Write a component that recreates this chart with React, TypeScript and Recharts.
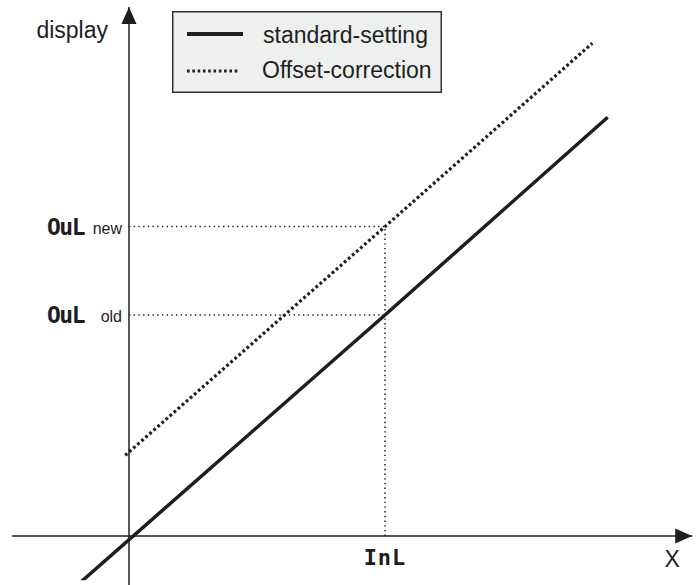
import {
  ComposedChart,
  Line,
  XAxis,
  YAxis,
  ReferenceLine,
  ReferenceDot,
  Legend,
} from "recharts";

// values (x: InL = 10, y: OuL old = 10)
const standardSetting = [
  { x: -1.85, y: -2.05 },
  { x: 10, y: 10 },
  { x: 18.7, y: 18.95 },
];
const offsetCorrection = [
  { x: -0.15, y: 3.65 },
  { x: 10, y: 14 },
  { x: 18.1, y: 22.3 },
];
const inL = 10;
const ouLOld = 10;
const ouLNew = 14;
const seriesNames = ["standard-setting", "Offset-correction"];
const axisTitles = { x: "X", y: "display" };
const xLimits = [-4.57, 22];
const yLimits = [-2.22, 23.94];

const ink = "#1e1e1e";
const font = "'Liberation Sans', Arial, sans-serif";
const segFont = "'DejaVu Sans Mono', monospace";

const ArrowUp = (p: any) => (
  <path d={`M${p.cx},${p.cy} l-7.5,17 l15,0 z`} fill={ink} />
);
const ArrowRight = (p: any) => (
  <path d={`M${p.cx},${p.cy} l-17,-7.5 l0,15 z`} fill={ink} />
);

const OuLLabel = (sub: string) => (props: any) => {
  const { x, y } = props.viewBox;
  return (
    <g>
      <text x={x - 45} y={y + 8} textAnchor="end" fontFamily={segFont} fontWeight="bold" fontSize={23} letterSpacing={-1.5} fill={ink}>
        OuL
      </text>
      <text x={x - 7} y={y + 7} textAnchor="end" fontFamily={font} fontSize={16} fill={ink}>
        {sub}
      </text>
    </g>
  );
};

const InLLabel = (props: any) => {
  const { x, y, height } = props.viewBox;
  return (
    <text x={x} y={y + height + 29} textAnchor="middle" fontFamily={segFont} fontWeight="bold" fontSize={22} letterSpacing={1} fill={ink}>
      InL
    </text>
  );
};

const YTitle = (props: any) => {
  const { x, y } = props.viewBox;
  return (
    <text x={x - 21} y={y + 31} textAnchor="end" fontFamily={font} fontSize={23} fill={ink}>
      {axisTitles.y}
    </text>
  );
};

const XTitle = (props: any) => {
  const { x, y, width } = props.viewBox;
  return (
    <text x={x + width - 20} y={y + 31} textAnchor="middle" fontFamily={font} fontSize={23} fill={ink}>
      {axisTitles.x}
    </text>
  );
};

const renderLegend = () => (
  <svg width={270} height={82}>
    <rect x={0.75} y={0.75} width={268.5} height={80.5} fill="#eeefef" stroke="#333" strokeWidth={1.5} />
    {seriesNames.map((name, i) => (
      <g key={name}>
        <line
          x1={15}
          x2={i === 0 ? 71 : 68}
          y1={23 + i * 37}
          y2={23 + i * 37}
          stroke={ink}
          strokeWidth={i === 0 ? 4 : 3}
          strokeDasharray={i === 0 ? undefined : "2.6 2.7"}
        />
        <text x={i === 0 ? 91 : 90} y={32 + i * 35} fontFamily={font} fontSize={23} fill={ink}>
          {name}
        </text>
      </g>
    ))}
  </svg>
);

export default function App() {
  return (
    <div style={{ position: "absolute", left: 0, top: 0 }}>
      <ComposedChart
        width={700}
        height={585}
        margin={{ top: 5.6, right: 7.8, bottom: 4.8, left: 1 }}
      >
        <XAxis type="number" dataKey="x" domain={[-5, 22]} hide allowDataOverflow />
        <YAxis type="number" dataKey="y" domain={[-2, 24]} hide allowDataOverflow />

        <ReferenceLine
          segment={[{ x: xLimits[0], y: 0 }, { x: xLimits[1], y: 0 }]}
          stroke={ink}
          strokeWidth={1.5}
          ifOverflow="visible"
          label={XTitle}
        />
        <ReferenceLine
          segment={[{ x: 0, y: yLimits[0] }, { x: 0, y: yLimits[1] }]}
          stroke={ink}
          strokeWidth={1.5}
          ifOverflow="visible"
          label={YTitle}
        />
        <ReferenceDot x={xLimits[1]} y={0} ifOverflow="visible" shape={ArrowRight} />
        <ReferenceDot x={0} y={yLimits[1]} ifOverflow="visible" shape={ArrowUp} />

        <ReferenceLine
          segment={[{ x: 0, y: ouLNew }, { x: inL, y: ouLNew }]}
          stroke={ink}
          strokeWidth={1.5}
          strokeDasharray="1.4 3.3"
          ifOverflow="visible"
          label={OuLLabel("new")}
        />
        <ReferenceLine
          segment={[{ x: 0, y: ouLOld }, { x: inL, y: ouLOld }]}
          stroke={ink}
          strokeWidth={1.5}
          strokeDasharray="1.4 3.3"
          ifOverflow="visible"
          label={OuLLabel("old")}
        />
        <ReferenceLine
          segment={[{ x: inL, y: 0 }, { x: inL, y: ouLNew }]}
          stroke={ink}
          strokeWidth={1.5}
          strokeDasharray="1.4 3.3"
          ifOverflow="visible"
          label={InLLabel}
        />

        <Line
          data={standardSetting}
          dataKey="y"
          name={seriesNames[0]}
          type="linear"
          stroke={ink}
          strokeWidth={3.5}
          dot={false}
          activeDot={false}
          isAnimationActive={false}
        />
        <Line
          data={offsetCorrection}
          dataKey="y"
          name={seriesNames[1]}
          type="linear"
          stroke={ink}
          strokeWidth={3.2}
          strokeDasharray="2.8 2.6"
          dot={false}
          activeDot={false}
          isAnimationActive={false}
        />

        <Legend
          layout="horizontal"
          verticalAlign="middle"
          align="center"
          content={renderLegend}
          wrapperStyle={{ left: 172, top: 11, width: 270, height: 82 }}
        />
      </ComposedChart>
    </div>
  );
}
